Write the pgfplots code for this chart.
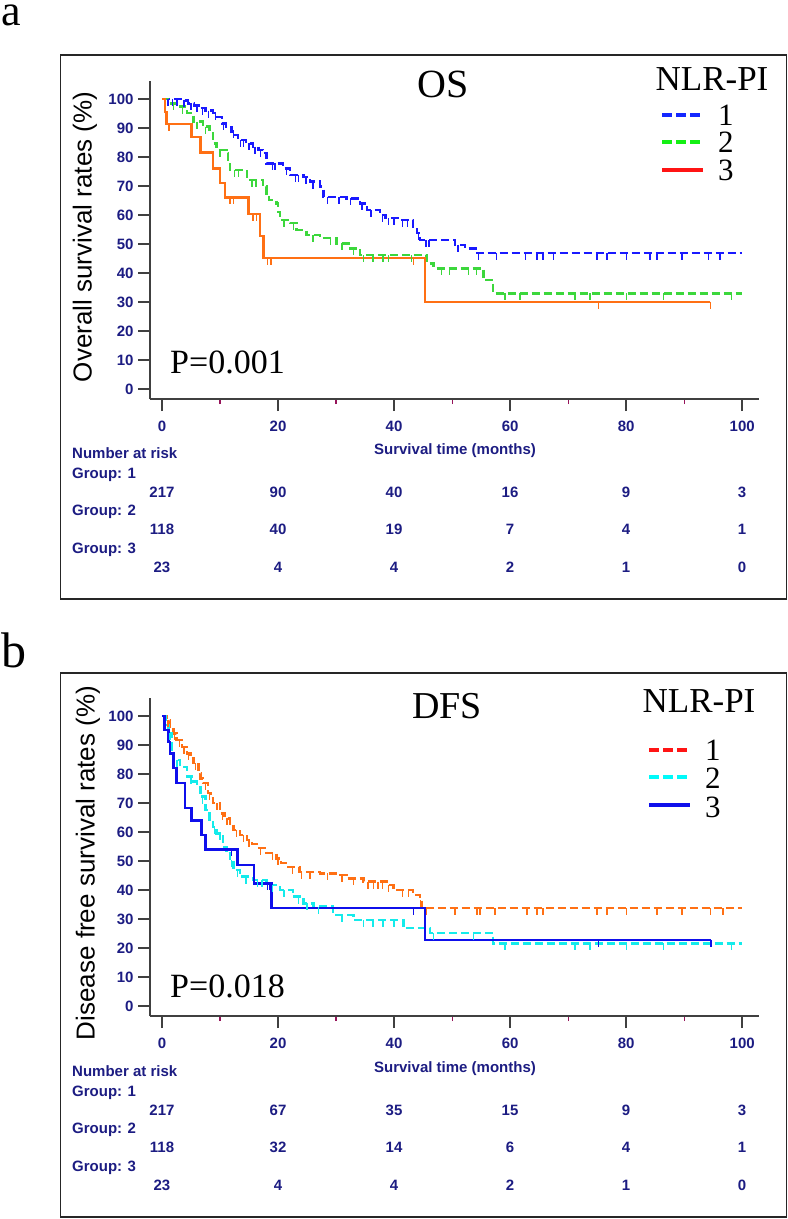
\documentclass[border=0pt]{standalone}
\usepackage{pgfplots}
\pgfplotsset{compat=1.18}
\usepackage{fontspec}
\setmainfont{Liberation Serif}
\newfontfamily\arial{Liberation Sans}
\definecolor{navytick}{RGB}{28,28,130}
\definecolor{axgray}{RGB}{64,64,64}
\definecolor{kmblue}{RGB}{25,25,255}
\definecolor{kmgreen}{RGB}{60,215,60}
\definecolor{kmorange}{RGB}{255,112,20}
\definecolor{kmcyan}{RGB}{20,235,235}
\definecolor{kmnavy}{RGB}{15,15,235}
\definecolor{mintick}{RGB}{150,20,90}
\definecolor{legred}{RGB}{255,20,20}
\definecolor{leggreen}{RGB}{20,240,20}
\definecolor{legcyan}{RGB}{0,250,250}
\definecolor{legblue}{RGB}{20,40,255}

\pgfdeclareplotmark{cens}{%
  \pgfpathmoveto{\pgfpoint{0pt}{0pt}}%
  \pgfpathlineto{\pgfpoint{0pt}{-7bp}}%
  \pgfusepathqstroke}

\newcommand\tk{\fontsize{15bp}{17bp}\selectfont\arial\bfseries}
\newcommand\sz[1]{\fontsize{#1bp}{#1bp}\selectfont}

\pgfplotsset{
  kmaxis/.style={
    scale only axis, width=609bp, height=318bp,
    xmin=-2.07, xmax=102.9, ymin=-3.45, ymax=106.2,
    axis x line*=bottom, axis y line*=left,
    axis line style={axgray, line width=2bp, -},
    xtick={0,20,...,100}, ytick={0,10,...,100},
    minor xtick={10,30,50,70,90},
    tick align=outside,
    major tick length=12bp, minor tick length=5bp,
    major tick style={axgray, line width=2bp},
    minor tick style={mintick, line width=1.2bp},
    /pgf/number format/assume math mode=true,
    tick label style={font=\tk, text=navytick},
    xticklabel style={yshift=-6bp},
    yticklabel style={xshift=-1bp},
    clip=false,
  },
  kmline/.style={const plot, line width=2.4bp, mark=none},
  kmdash/.style={kmline, dash pattern=on 8bp off 4bp},
  kmcens/.style={only marks, mark=cens, mark options={solid, line width=1.4bp}},
}

\newcommand\riskrow[7]{%
  \foreach \xx/\vv in {162/#2,278/#3,394/#4,510/#5,626/#6,742/#7}{%
    \node[anchor=base, inner sep=0, font=\tk, text=navytick] at (\xx,#1) {\vv};}}
\newcommand\grp[2]{\node[anchor=base west, inner sep=0, font=\tk, text=navytick] at (72,#1) {#2};}

\begin{document}
\begin{tikzpicture}[x=1bp,y=1bp]
\useasboundingbox (0,0) rectangle (788,-1219);

%================ Panel a =================
\draw[line width=1.5bp, black!85] (60.5,-55) rectangle (786.5,-599);
\node[anchor=base west, inner sep=0, font=\sz{44}] at (1,-25) {a};

\begin{axis}[kmaxis, at={(150bp,-399bp)}, anchor=south west]
% group 1 (blue dashed)
\addplot[kmdash, kmblue] coordinates {
(0,100) (3.5,99.5) (4.5,98.5) (5.5,97.8) (6.5,96.8) (7.5,96.0) (8.8,95.1) (9.5,93.8)
(10.3,91.6) (11.0,90.4) (12.0,88.8) (12.6,87.5) (13.1,85.9) (14.5,84.7) (15.7,83.6)
(16.6,82.4) (17.4,81.3) (18.0,77.8) (20.9,76.1) (22.1,73.8) (24.4,73.2) (25.5,71.5)
(27.2,69.8) (27.8,66.3) (31.8,65.7) (34.1,64.0) (35.3,61.7) (37.6,60.0) (38.5,58.9)
(41.0,58.3) (43.3,56.0) (43.9,53.7) (44.5,51.4) (50.5,49.7) (52.2,48.5) (54.3,46.8) (100,46.8)};
\addplot[kmcens, kmblue] coordinates {
(1,100) (1.8,100) (2.6,100) (3.8,99.5) (5,98.5) (6,97.8) (7,96.8) (8,96) (9.2,95.1)
(10.6,91.6) (12.3,88.8) (13.5,85.9) (14,85.9) (15,84.7) (16,83.6) (17,82.4) (19,77.8)
(19.5,77.8) (21.5,76.1) (23,73.8) (23.5,73.8) (24.8,73.2) (26,71.5) (28.5,66.3) (30.5,66.3)
(32.5,65.7) (34.5,64.0) (36,61.7) (38,60.0) (39,58.9) (40,58.9) (41.5,58.3) (42.3,58.3)
(44.2,53.7) (45.5,51.4) (46,51.4) (51,49.7) (54.5,46.8) (57.7,46.8) (62.6,46.8) (64.6,46.8)
(65.7,46.8) (67.5,46.8) (75,46.8) (76.7,46.8) (80.1,46.8) (84.1,46.8) (85.3,46.8)
(89.6,46.8) (94.2,46.8) (96.2,46.8)};
% group 2 (green dashed)
\addplot[kmdash, kmgreen] coordinates {
(0,100) (1.0,98.5) (3.1,97.4) (4.3,95.1) (5.4,92.2) (7.1,90.5) (8.2,88.2) (8.8,84.7)
(9.4,82.4) (11.1,81.3) (11.4,79.0) (11.7,75.5) (14.6,72.1) (17.4,69.8) (18.0,67.0)
(18.4,65.2) (19.7,64.0) (20.0,61.0) (20.3,58.3) (22.1,57.2) (23.2,54.9) (24.9,53.1)
(27.2,52.0) (30.1,50.2) (32.4,48.5) (34.1,46.2) (45.6,43.3) (46.8,41.6) (55.4,37.6)
(57.1,33.0) (100,33.0)};
\addplot[kmcens, kmgreen] coordinates {
(2,98.5) (3.5,97.4) (6,92.2) (7.5,90.5) (10,82.4) (12.5,75.5) (13.2,75.5) (15.5,72.1)
(16.2,72.1) (21,58.3) (22.7,57.2) (26,53.1) (29,52.0) (31,50.2) (33,48.5) (34.7,46.2)
(36.4,46.2) (38.1,46.2) (39,46.2) (43,46.2) (48.2,41.6) (49.6,41.6) (52.8,41.6) (54.2,41.6)
(59.1,33) (61.7,33) (71.2,33) (73.8,33) (80.1,33) (86.4,33) (98.2,33)};
% group 3 (orange solid)
\addplot[kmline, kmorange] coordinates {
(0,100) (0.5,95.6) (0.8,91.4) (5.1,86.8) (6.6,81.5) (8.8,76.1) (10.0,71.1) (10.9,66.1)
(14.9,60.3) (16.9,52.8) (17.5,45.1) (45.3,30.1) (94.5,30.1)};
\addplot[kmcens, kmorange] coordinates {
(1.2,91.4) (11.7,66.1) (12.3,66.1) (15.7,60.3) (16.3,60.3) (18.2,45.1) (18.8,45.1)
(43.3,45.1) (75.2,30.1) (94.5,30.1)};
\end{axis}

\node[rotate=90, font=\fontsize{26bp}{30bp}\selectfont\arial] at (85,-237) {Overall survival rates (\%)};
\node[anchor=base, inner sep=0, font=\sz{40}] at (443,-97) {OS};
\node[anchor=base, inner sep=0, font=\sz{35}] at (712,-90) {NLR-PI};
\draw[legblue, line width=4bp, dash pattern=on 10bp off 4bp] (662,-115) -- (703,-115);
\draw[leggreen, line width=4bp, dash pattern=on 10bp off 4bp] (662,-142) -- (703,-142);
\draw[legred, line width=4bp] (662,-170) -- (703,-170);
\node[anchor=base west, inner sep=0, font=\sz{31}] at (718,-125) {1};
\node[anchor=base west, inner sep=0, font=\sz{31}] at (718,-152) {2};
\node[anchor=base west, inner sep=0, font=\sz{31}] at (718,-180) {3};
\node[anchor=base west, inner sep=0, font=\sz{34}] at (170,-373) {P=0.001};

\node[anchor=base, inner sep=0, font=\tk, text=navytick] at (455,-454) {Survival time (months)};
\grp{-458}{Number at risk}
\grp{-478}{Group: 1}
\riskrow{-497}{217}{90}{40}{16}{9}{3}
\grp{-515}{Group: 2}
\riskrow{-534}{118}{40}{19}{7}{4}{1}
\grp{-553}{Group: 3}
\riskrow{-572}{23}{4}{4}{2}{1}{0}

%================ Panel b =================
\draw[line width=1.5bp, black!85] (60.5,-673) rectangle (786.5,-1217);
\node[anchor=base west, inner sep=0, font=\sz{50}] at (1,-667) {b};

\begin{axis}[kmaxis, at={(150bp,-1016bp)}, anchor=south west]
% group 1 (orange dashed)
\addplot[kmdash, kmorange] coordinates {
(0,100) (0.8,98.5) (1.4,96.3) (2.0,94.0) (2.5,91.7) (3.4,89.4) (4.3,87.1) (4.9,85.4)
(5.4,83.7) (6.3,80.2) (6.7,78.5) (7.1,76.8) (7.9,73.4) (8.4,71.6) (8.8,69.9) (10.0,66.4)
(10.8,64.7) (11.7,63.0) (12.3,60.7) (13.4,59.0) (14.6,57.2) (15.5,55.8) (16.3,54.4)
(18.0,52.7) (19.7,50.9) (20.5,49.4) (21.4,48.0) (23.7,46.3) (27.2,45.7) (30.1,45.2)
(31.8,44.0) (34.7,42.9) (38.7,41.7) (39.9,40.0) (43.3,38.3) (44.5,36.6) (44.7,33.7) (100,33.7)};
\addplot[kmcens, kmorange] coordinates {
(1,98.5) (2.2,94) (3,91.7) (3.8,89.4) (4.6,87.1) (5.8,83.7) (6.5,80.2) (7.5,76.8) (8.2,73.4)
(9.5,69.9) (10.4,66.4) (11.2,64.7) (12.8,60.7) (14,59) (15,57.2) (17,54.4) (19,52.7)
(20,50.9) (22.5,48) (24,46.3) (25.5,46.3) (28.5,45.7) (31,45.2) (33,44) (35.5,42.9)
(36.5,42.9) (37.2,42.9) (38,42.9) (39,41.7) (41.5,40) (42.5,40) (44.6,36.6) (45.6,33.7)
(50.5,33.7) (54.3,33.7) (54.8,33.7) (57.4,33.7) (62.9,33.7) (64.6,33.7) (65.7,33.7)
(75,33.7) (76.7,33.7) (80.1,33.7) (85.3,33.7) (89.6,33.7) (94.5,33.7) (96.7,33.7)};
% group 2 (cyan dashed)
\addplot[kmdash, kmcyan] coordinates {
(0,100) (0.6,97) (1.1,94.0) (1.7,88.3) (2.1,84.8) (3.1,82.5) (4.3,79.1) (5.2,77.4)
(6.0,75.6) (6.6,72.2) (7.5,67.6) (8.2,64.1) (8.8,61.8) (9.4,59.5) (10.5,54.9) (11.1,52.6)
(11.7,50.3) (12.3,47.0) (13.4,44.6) (15.7,43.4) (18.0,41.7) (20.3,40.0) (22.6,37.7)
(24.4,35.4) (26.1,34.3) (29.5,31.4) (33.0,29.7) (41.6,26.8) (46.2,25.1) (57.1,21.6) (100,21.6)};
\addplot[kmcens, kmcyan] coordinates {
(1.4,94) (2.6,84.8) (5,79.1) (7,72.2) (9,61.8) (10,59.5) (12,50.3) (13,47) (14.5,44.6)
(16.5,43.4) (17.2,43.4) (19,41.7) (21,40) (23.5,37.7) (25,35.4) (27,34.3) (31,31.4)
(34.7,29.7) (36.4,29.7) (38.1,29.7) (40,29.7) (46.8,25.1) (53.7,25.1) (59.1,21.6)
(71.2,21.6) (73.8,21.6) (80.1,21.6) (86.4,21.6) (98.2,21.6)};
% group 3 (blue solid)
\addplot[kmline, kmnavy] coordinates {
(0,100) (0.4,95.2) (1.1,91.1) (1.4,87.1) (2.0,82.0) (2.5,77.0) (4.0,68.2) (5.1,63.9)
(6.8,59.0) (7.5,54.0) (13.0,48.6) (15.9,42.3) (18.9,33.7) (45.3,22.8) (94.6,22.8)};
\addplot[kmcens, kmnavy] coordinates {
(12,54) (18.2,42.3) (18.6,42.3) (43.3,33.7) (75.2,22.8) (94.6,22.8)};
\end{axis}

\node[rotate=90, font=\fontsize{26bp}{30bp}\selectfont\arial] at (88,-863) {Disease free survival rates (\%)};
\node[anchor=base, inner sep=0, font=\sz{38}] at (447,-718) {DFS};
\node[anchor=base, inner sep=0, font=\sz{35}] at (699,-712) {NLR-PI};
\draw[legred, line width=4bp, dash pattern=on 10bp off 4bp] (649,-750) -- (690,-750);
\draw[legcyan, line width=4bp, dash pattern=on 10bp off 4bp] (649,-777) -- (690,-777);
\draw[kmnavy, line width=4bp] (649,-805) -- (690,-805);
\node[anchor=base west, inner sep=0, font=\sz{31}] at (705,-760) {1};
\node[anchor=base west, inner sep=0, font=\sz{31}] at (705,-788) {2};
\node[anchor=base west, inner sep=0, font=\sz{31}] at (705,-817) {3};
\node[anchor=base west, inner sep=0, font=\sz{34}] at (170,-997) {P=0.018};

\node[anchor=base, inner sep=0, font=\tk, text=navytick] at (455,-1072) {Survival time (months)};
\grp{-1076}{Number at risk}
\grp{-1096}{Group: 1}
\riskrow{-1115}{217}{67}{35}{15}{9}{3}
\grp{-1133}{Group: 2}
\riskrow{-1152}{118}{32}{14}{6}{4}{1}
\grp{-1171}{Group: 3}
\riskrow{-1190}{23}{4}{4}{2}{1}{0}
\end{tikzpicture}
\end{document}
